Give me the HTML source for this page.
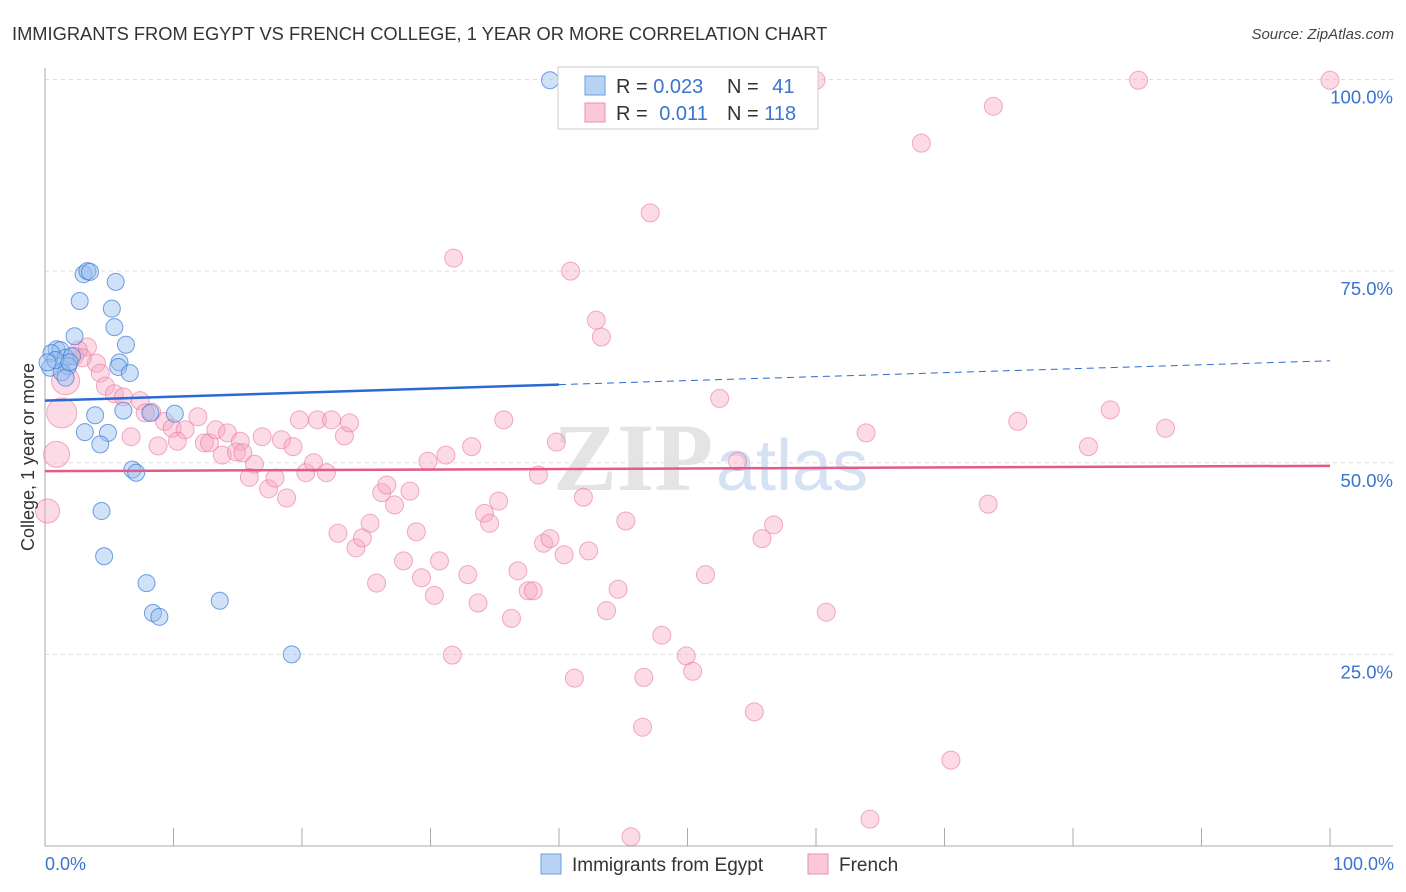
<!DOCTYPE html>
<html><head><meta charset="utf-8"><style>
body{margin:0;background:#fff;font-family:"Liberation Sans",sans-serif}
svg{display:block}
</style></head><body>
<svg id="chart" width="1406" height="892" viewBox="0 0 1406 892" xmlns="http://www.w3.org/2000/svg">
<text x="12" y="40" font-size="18.3" fill="#333">IMMIGRANTS FROM EGYPT VS FRENCH COLLEGE, 1 YEAR OR MORE CORRELATION CHART</text>
<text x="1394" y="39" font-size="15" fill="#444" font-style="italic" text-anchor="end">Source: ZipAtlas.com</text>
<g>
<text x="553" y="490" font-size="96" font-family="Liberation Serif,serif" fill="#e4e4e4" font-weight="bold">ZIP</text>
<text x="716" y="490" font-size="72" fill="#d4e2f4">atlas</text>
</g>
<g id="grid"></g>
<g id="axes"></g>
<g id="pts"></g>
<g id="trends"></g>
<text transform="translate(34,457) rotate(-90)" font-size="18" fill="#333" text-anchor="middle">College, 1 year or more</text>
<text x="45" y="870" font-size="18" fill="#3a73d0">0.0%</text>
<text x="1394" y="870" font-size="18" fill="#3a73d0" text-anchor="end">100.0%</text>
<g>
<rect x="558" y="67" width="260" height="62" fill="#fff" stroke="#ccc"/>
<rect x="585" y="76" width="20" height="19" fill="#b8d2f4" stroke="#6e9fe0"/>
<rect x="585" y="103" width="20" height="19" fill="#fbc8d8" stroke="#e890ab"/>
<text x="616" y="93" font-size="20" fill="#333">R = <tspan fill="#3a73d0">0.023</tspan></text>
<text x="727" y="93" font-size="20" fill="#333">N = <tspan fill="#3a73d0" dx="8">41</tspan></text>
<text x="616" y="120" font-size="20" fill="#333">R = <tspan fill="#3a73d0" dx="6">0.011</tspan></text>
<text x="727" y="120" font-size="20" fill="#333">N = <tspan fill="#3a73d0">118</tspan></text>
</g>
<g>
<rect x="541" y="854" width="20" height="20" fill="#b8d2f4" stroke="#6e9fe0"/>
<text x="572" y="871" font-size="19" fill="#333">Immigrants from Egypt</text>
<rect x="808" y="854" width="20" height="20" fill="#fbc8d8" stroke="#e890ab"/>
<text x="839" y="871" font-size="19" fill="#333">French</text>
</g>
</svg>
<script>
const yTicks=[25,50,75,100];
const yTickLabels=["25.0%","50.0%","75.0%","100.0%"];
const xTicks=[0,10,20,30,40,50,60,70,80,90,100];
const egyptX=[39.3,3.0,3.3,3.5,5.5,2.7,5.2,5.4,2.3,6.3,0.9,1.2,0.5,1.6,2.1,5.8,5.7,6.6,0.4,1.8,1.3,1.6,3.9,8.2,10.1,6.1,3.1,4.9,4.3,6.8,7.1,4.4,4.6,7.9,8.4,8.9,13.6,19.2,0.8,1.9,0.2];
const egyptY=[99.9,74.6,75.0,74.9,73.6,71.1,70.1,67.7,66.5,65.4,64.8,64.7,64.3,63.7,63.9,63.1,62.5,61.7,62.4,62.6,61.8,61.1,56.2,56.5,56.4,56.8,54.0,53.9,52.4,49.1,48.7,43.7,37.8,34.3,30.4,29.9,32.0,25.0,63.4,63.1,63.1];
const frenchX=[1.3,0.9,0.2,1.6,60.0,85.1,100,73.8,68.2,47.1,31.8,40.9,42.9,43.3,3.3,2.6,4.0,2.3,2.9,4.3,4.7,5.4,6.1,7.4,8.3,7.8,9.3,9.9,11.9,10.9,10.3,8.8,6.7,12.4,12.8,13.3,14.2,15.2,13.8,14.9,15.4,16.3,15.9,16.9,17.4,17.9,18.4,18.8,19.3,19.8,20.3,20.9,21.2,21.9,22.3,22.8,23.3,23.7,24.2,24.7,25.3,25.8,26.2,26.6,27.2,27.9,28.4,28.9,29.3,29.8,30.3,30.7,31.2,31.7,32.9,33.2,33.7,34.2,34.6,35.3,35.7,36.3,36.8,37.6,38.0,38.4,38.8,39.3,39.8,40.4,41.2,41.9,42.3,43.7,44.6,45.2,46.5,46.6,48.0,49.9,50.4,51.4,52.5,53.9,55.2,55.8,56.7,60.8,63.9,64.2,70.5,73.4,75.7,81.2,82.9,87.2,45.6,57.6];
const frenchY=[56.5,51.1,43.7,60.7,99.9,99.9,99.9,96.5,91.7,82.6,76.7,75.0,68.6,66.4,65.1,64.7,63.0,63.9,63.7,61.7,60.0,59.0,58.6,58.1,56.6,56.5,55.4,54.5,56.0,54.3,52.8,52.2,53.4,52.6,52.6,54.3,53.9,52.8,51.0,51.4,51.3,49.8,48.1,53.4,46.6,48.0,53.0,45.4,52.1,55.6,48.7,50.0,55.6,48.7,55.6,40.8,53.5,55.2,38.9,40.2,42.1,34.3,46.1,47.1,44.5,37.2,46.3,41.0,35.0,50.2,32.7,37.2,51.0,24.9,35.4,52.1,31.7,43.4,42.1,45.0,55.6,29.7,35.9,33.3,33.3,48.4,39.5,40.1,52.7,38.0,21.9,45.5,38.5,30.7,33.5,42.4,15.5,22.0,27.5,24.8,22.8,35.4,58.4,50.2,17.5,40.1,41.9,30.5,53.9,3.5,11.2,44.6,55.4,52.1,56.9,54.5,1.2,99.9];
const frenchBig=[15,13,12,14];
const egyptTrend=[[0,58.1],[40,60.2],[100,63.3]];
const frenchTrend=[[0,48.9],[100,49.6]];
const X=v=>45+12.85*v, Y=v=>846-7.665*v;
const NS="http://www.w3.org/2000/svg";
function mk(p,t,a){const e=document.createElementNS(NS,t);for(const k in a)e.setAttribute(k,a[k]);p.appendChild(e);return e;}
const grid=document.getElementById('grid'),axes=document.getElementById('axes'),pts=document.getElementById('pts'),tr=document.getElementById('trends');
yTicks.forEach((t,i)=>{
 const l=mk(grid,'line',{x1:45,x2:1393,y1:Y(t),y2:Y(t),stroke:'#ddd','stroke-dasharray':'4,4'});
 
 
 const tx=mk(axes,'text',{x:1393,y:Y(t)+24,'font-size':18.5,fill:'#3a73d0','text-anchor':'end'});
 tx.textContent=yTickLabels[i];
 
 
});
mk(axes,'line',{x1:45,x2:45,y1:68,y2:846,stroke:'#aaa'});
mk(axes,'line',{x1:45,x2:1393,y1:846,y2:846,stroke:'#aaa'});
xTicks.forEach(t=>{
 const l=mk(axes,'line',{x1:X(t),x2:X(t),y1:828,y2:846,stroke:'#aaa'});
 
 
});
frenchX.forEach((x,i)=>{
 const c=mk(pts,'circle',{cx:X(x),cy:Y(frenchY[i]),r:frenchBig[i]||9,fill:'rgba(248,165,192,0.4)',stroke:'rgba(232,120,155,0.6)','stroke-width':1});
 
 
});
egyptX.forEach((x,i)=>{
 const c=mk(pts,'circle',{cx:X(x),cy:Y(egyptY[i]),r:8.5,fill:'rgba(150,190,240,0.45)',stroke:'rgba(60,120,215,0.7)','stroke-width':1});
 
 
});
let a=mk(tr,'line',{x1:X(egyptTrend[0][0]),y1:Y(egyptTrend[0][1]),x2:X(egyptTrend[1][0]),y2:Y(egyptTrend[1][1]),stroke:'#2a6ad4','stroke-width':2.5});


a=mk(tr,'line',{x1:X(egyptTrend[1][0]),y1:Y(egyptTrend[1][1]),x2:X(egyptTrend[2][0]),y2:Y(egyptTrend[2][1]),stroke:'#2a6ad4','stroke-width':1,'stroke-dasharray':'7,5'});


a=mk(tr,'line',{x1:X(frenchTrend[0][0]),y1:Y(frenchTrend[0][1]),x2:X(frenchTrend[1][0]),y2:Y(frenchTrend[1][1]),stroke:'#e45a88','stroke-width':2.5});


</script>
</body></html>
